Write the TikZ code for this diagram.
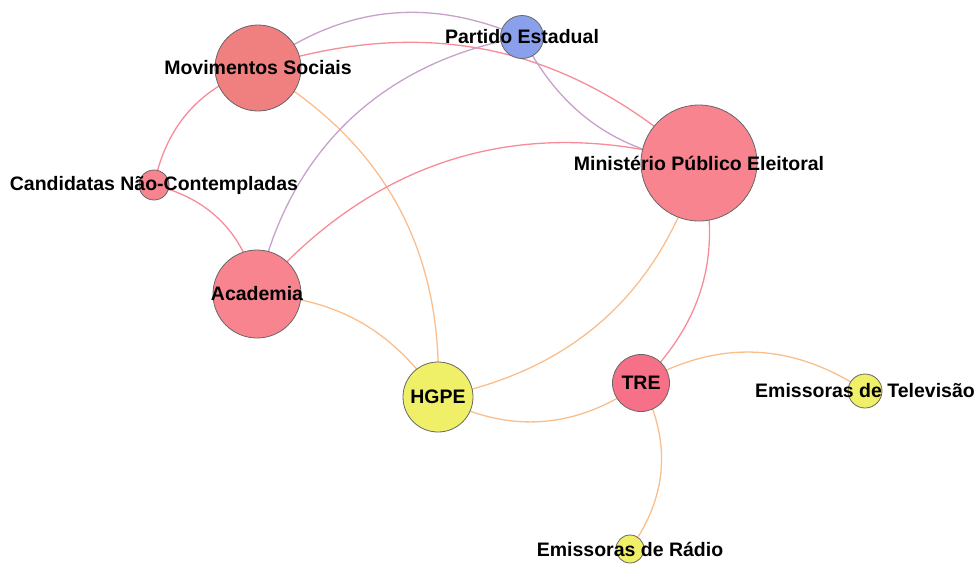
\documentclass[tikz,border=0pt]{standalone}
\usepackage{fontspec}
\setmainfont{Liberation Sans}
\usetikzlibrary{backgrounds}

\definecolor{movred}{RGB}{240,128,128}
\definecolor{partblue}{RGB}{138,160,234}
\definecolor{pubpink}{RGB}{248,132,144}
\definecolor{trered}{RGB}{246,112,136}
\definecolor{mediayellow}{RGB}{240,240,104}
\definecolor{linkpink}{RGB}{247,140,152}
\definecolor{linkpurple}{RGB}{200,160,204}
\definecolor{linkorange}{RGB}{250,190,140}

\begin{document}
\begin{tikzpicture}[x=1pt, y=1pt,
    actor/.style={circle, draw=black!60, line width=0.8pt, inner sep=0pt, minimum size=#1},
    tag/.style={font=\fontsize{19.5}{22}\selectfont\bfseries, inner sep=0pt},
    link/.style={line width=1.3pt}]
    \useasboundingbox (0,0) rectangle (977,-563);

    % actors
    \node[actor=86pt, fill=movred, label={[tag]center:Movimentos Sociais}] (mov) at (258,-68) {};
    \node[actor=43pt, fill=partblue, label={[tag]center:Partido Estadual}] (part) at (522,-37) {};
    \node[actor=116pt, fill=pubpink, label={[tag]center:Ministério Público Eleitoral}] (mpe) at (699,-163) {};
    \node[actor=30pt, fill=pubpink, label={[tag]center:Candidatas Não-Contempladas}] (cand) at (154,-185) {};
    \node[actor=88pt, fill=pubpink, label={[tag]center:Academia}] (acad) at (257,-294) {};
    \node[actor=70pt, fill=mediayellow, label={[tag]center:HGPE}] (hgpe) at (438,-397) {};
    \node[actor=57pt, fill=trered, label={[tag]center:TRE}] (tre) at (641,-383) {};
    \node[actor=34pt, fill=mediayellow, label={[tag]center:Emissoras de Televisão}] (tv) at (865,-391) {};
    \node[actor=28pt, fill=mediayellow, label={[tag]center:Emissoras de Rádio}] (radio) at (630,-549) {};

    % links, under the circles
    \begin{scope}[on background layer]
        \draw[link, linkpurple] (mov.center) to[bend left=30] (part.center);
        \draw[link, linkpink] (mov.center) to[bend left=30] (mpe.center);
        \draw[link, linkpink] (mov.center) to[bend right=30] (cand.center);
        \draw[link, linkorange] (mov.center) to[bend left=31] (hgpe.center);
        \draw[link, linkpurple] (part.center) to[bend right=34] (acad.center);
        \draw[link, linkpurple] (part.center) to[bend right=27] (mpe.center);
        \draw[link, linkpink] (cand.center) to[bend left=33] (acad.center);
        \draw[link, linkpink] (acad.center) to[bend left=33] (mpe.center);
        \draw[link, linkorange] (acad.center) to[bend left=26] (hgpe.center);
        \draw[link, linkorange] (hgpe.center) to[bend right=31] (mpe.center);
        \draw[link, linkorange] (hgpe.center) to[bend right=32] (tre.center);
        \draw[link, linkpink] (mpe.center) to[bend left=31] (tre.center);
        \draw[link, linkorange] (tre.center) to[bend left=32] (tv.center);
        \draw[link, linkorange] (tre.center) to[bend left=32] (radio.center);
    \end{scope}
\end{tikzpicture}
\end{document}
